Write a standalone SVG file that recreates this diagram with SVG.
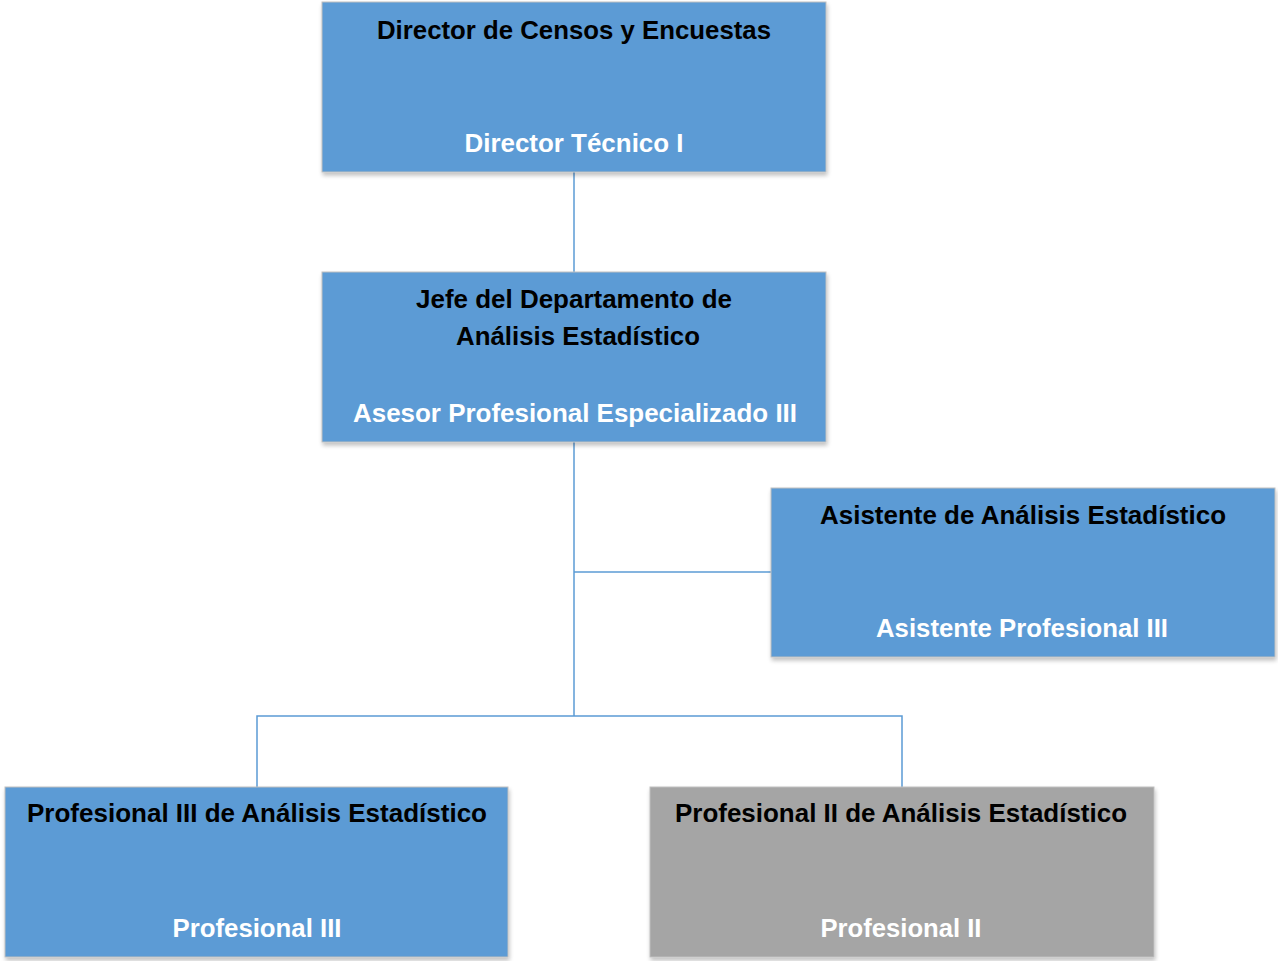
<svg xmlns="http://www.w3.org/2000/svg" width="1278" height="961" viewBox="0 0 1278 961">
<defs>
<filter id="sh" x="-5%" y="-5%" width="110%" height="115%">
<feGaussianBlur in="SourceAlpha" stdDeviation="2"/>
<feOffset dx="1" dy="3"/>
<feComponentTransfer><feFuncA type="linear" slope="0.25"/></feComponentTransfer>
<feMerge><feMergeNode/><feMergeNode in="SourceGraphic"/></feMerge>
</filter>
</defs>
<style>
.box{fill:#5B9BD5;stroke:#BFBFBF;stroke-width:1;filter:url(#sh)}
.gray{fill:#A5A5A5}
.t{font-family:"Liberation Sans",Arial,sans-serif;font-weight:bold;font-size:26px;text-anchor:middle;fill:#000}
.w{fill:#fff}
.c{fill:none;stroke:#5B9BD5;stroke-width:1.5}
</style>
<rect width="1278" height="961" fill="#fff"/>
<g id="connectors">
<path class="c" d="M574,172 V272"/>
<path class="c" d="M574,442 V716"/>
<path class="c" d="M574,572 H771"/>
<path class="c" d="M257,787 V716 H902 V787"/>
</g>
<g id="n1">
<rect class="box" x="322" y="2" width="504" height="170"/>
<text class="t" x="574" y="39" textLength="394" lengthAdjust="spacingAndGlyphs">Director de Censos y Encuestas</text>
<text class="t w" x="574" y="152" textLength="219" lengthAdjust="spacingAndGlyphs">Director Técnico I</text>
</g>
<g id="n2">
<rect class="box" x="322" y="272" width="504" height="170"/>
<text class="t" x="574" y="308" textLength="316" lengthAdjust="spacingAndGlyphs">Jefe del Departamento de</text>
<text class="t" x="578" y="345" textLength="244" lengthAdjust="spacingAndGlyphs">Análisis Estadístico</text>
<text class="t w" x="575" y="422" textLength="444" lengthAdjust="spacingAndGlyphs">Asesor Profesional Especializado III</text>
</g>
<g id="n3">
<rect class="box" x="771" y="488" width="504" height="169"/>
<text class="t" x="1023" y="524" textLength="406" lengthAdjust="spacingAndGlyphs">Asistente de Análisis Estadístico</text>
<text class="t w" x="1022" y="637" textLength="292" lengthAdjust="spacingAndGlyphs">Asistente Profesional III</text>
</g>
<g id="n4">
<rect class="box" x="5" y="787" width="503" height="170"/>
<text class="t" x="257" y="822" textLength="460" lengthAdjust="spacingAndGlyphs">Profesional III de Análisis Estadístico</text>
<text class="t w" x="257" y="937" textLength="169" lengthAdjust="spacingAndGlyphs">Profesional III</text>
</g>
<g id="n5">
<rect class="box gray" x="650" y="787" width="504" height="170"/>
<text class="t" x="901" y="822" textLength="452" lengthAdjust="spacingAndGlyphs">Profesional II de Análisis Estadístico</text>
<text class="t w" x="901" y="937" textLength="161" lengthAdjust="spacingAndGlyphs">Profesional II</text>
</g>
</svg>
